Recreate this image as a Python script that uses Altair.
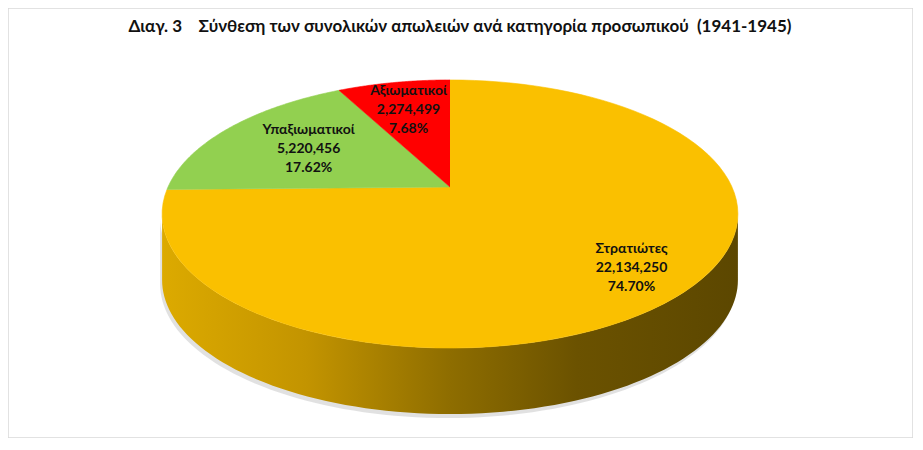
import math
import altair as alt
import pandas as pd

# ---- data ----
categories = ["Στρατιώτες", "Υπαξιωματικοί", "Αξιωματικοί"]
losses = [22134250, 5220456, 2274499]

# ---- styling ----
slice_colors = ["#fac000", "#92d050", "#ff0000"]
label_radius = [0.8, 0.62, 0.7]
title_text = ("Διαγ. 3\u00a0\u00a0\u00a0 Σύνθεση των συνολικών απωλειών ανά κατηγορία "
              "προσωπικού\u00a0 (1941-1945)")

W, H = 905, 430
CX, CY = 442, 179          # pie centre inside the chart
RX, RY, K = 282, 128.6, 0.2015   # ellipse radii and perspective factor
DEPTH = 66
N = 90
AMIN = math.acos(-K)
AMAX = 2 * math.pi - AMIN

df = pd.DataFrame({
    "cat": categories,
    "val": losses,
    "ord": list(range(len(categories))),
    "lr": label_radius,
})

xs = alt.Scale(domain=[-CX, W - CX], range=[0, W], nice=False, zero=False)
ys = alt.Scale(domain=[-CY, H - CY], range=[0, H], nice=False, zero=False)
cs = alt.Scale(domain=categories, range=slice_colors)

PX = f"{RX}*datum.X/(1 - {K}*datum.Z)"
PY = f"{RY}*datum.Z/(1 - {K}*datum.Z)"

base = alt.Chart(df).transform_joinaggregate(
    total="sum(val)"
).transform_window(
    cum="sum(val)", sort=[alt.SortField("ord")], frame=[None, 0]
).transform_calculate(
    a0="2*PI*(datum.cum - datum.val)/datum.total",
    a1="2*PI*datum.cum/datum.total",
    pct="datum.val/datum.total",
)

# ---- side (visible front wall) ----
def side_layer(dx, dy):
    return base.transform_calculate(
        s0=f"max(datum.a0, {AMIN})",
        s1=f"min(datum.a1, {AMAX})",
    ).transform_filter("datum.s1 > datum.s0").transform_calculate(
        steps=f"sequence(0, {2 * N + 2})"
    ).transform_flatten(["steps"], as_=["s"]).transform_calculate(
        bottom=f"datum.s > {N} ? 1 : 0",
        ang=(f"datum.s <= {N} ? datum.s0 + (datum.s1 - datum.s0)*datum.s/{N}"
             f" : datum.s1 - (datum.s1 - datum.s0)*(datum.s - {N + 1})/{N}"),
        X="sin(datum.ang)",
        Z="-cos(datum.ang)",
        px=f"{PX} + {dx}",
        py=f"{PY} + datum.bottom*{DEPTH} + {dy}",
    )

side_grad = alt.Gradient(
    gradient="linear",
    stops=[
        alt.GradientStop(color="#dcaa00", offset=0),
        alt.GradientStop(color="#c39400", offset=0.25),
        alt.GradientStop(color="#8e6d00", offset=0.5),
        alt.GradientStop(color="#6b5200", offset=0.72),
        alt.GradientStop(color="#5c4700", offset=1),
    ],
    x1=0, x2=1, y1=0, y2=0,
)

shadow = side_layer(-2, 4).mark_line(
    fill="#bdbdbd", fillOpacity=0.45, strokeOpacity=0
).encode(
    x=alt.X("px:Q", scale=xs, axis=None),
    y=alt.Y("py:Q", scale=ys, axis=None),
    detail="cat:N",
    order="s:Q",
)

side = side_layer(0, 0).mark_line(
    fill=side_grad, strokeOpacity=0
).encode(
    x=alt.X("px:Q", scale=xs, axis=None),
    y=alt.Y("py:Q", scale=ys, axis=None),
    detail="cat:N",
    order="s:Q",
)

# ---- top face slices ----
top = base.transform_calculate(
    steps=f"sequence(0, {N + 2})"
).transform_flatten(["steps"], as_=["s"]).transform_calculate(
    ang=f"datum.a0 + (datum.a1 - datum.a0)*(datum.s - 1)/{N}",
    X="datum.s == 0 ? 0 : sin(datum.ang)",
    Z="datum.s == 0 ? 0 : -cos(datum.ang)",
    px=PX,
    py=PY,
).mark_line(strokeWidth=0.6).encode(
    x=alt.X("px:Q", scale=xs, axis=None),
    y=alt.Y("py:Q", scale=ys, axis=None),
    fill=alt.Fill("cat:N", scale=cs, legend=None),
    stroke=alt.Stroke("cat:N", scale=cs, legend=None),
    detail="cat:N",
    order="s:Q",
)

# ---- labels ----
labels = base.transform_calculate(
    mid="(datum.a0 + datum.a1)/2",
    X="datum.lr*sin(datum.mid)",
    Z="-datum.lr*cos(datum.mid)",
    px=PX,
    py=PY,
    label="datum.cat + '\\n' + format(datum.val, ',') + '\\n' + format(datum.pct, '.2%')",
).mark_text(
    font="Lato", fontSize=14, fontWeight="bold", lineBreak="\n", lineHeight=19,
    align="center", baseline="middle", color="#111111", dy=-19,
).encode(
    x=alt.X("px:Q", scale=xs, axis=None),
    y=alt.Y("py:Q", scale=ys, axis=None),
    text="label:N",
)

title = alt.Chart(pd.DataFrame({"t": [title_text]})).mark_text(
    font="Lato", fontSize=17, fontWeight="bold", color="#111111",
    align="center", baseline="middle",
).encode(
    text="t:N", x=alt.value(452), y=alt.value(19),
)

chart = alt.layer(shadow, side, top, labels, title).properties(
    width=W, height=H,
    autosize=alt.AutoSizeParams(type="none"),
    padding=0,
    background="white",
).configure_view(stroke="#d9d9d9", strokeWidth=1.5)

chart.save("out.html", embed_options={"renderer": "svg", "actions": False})
